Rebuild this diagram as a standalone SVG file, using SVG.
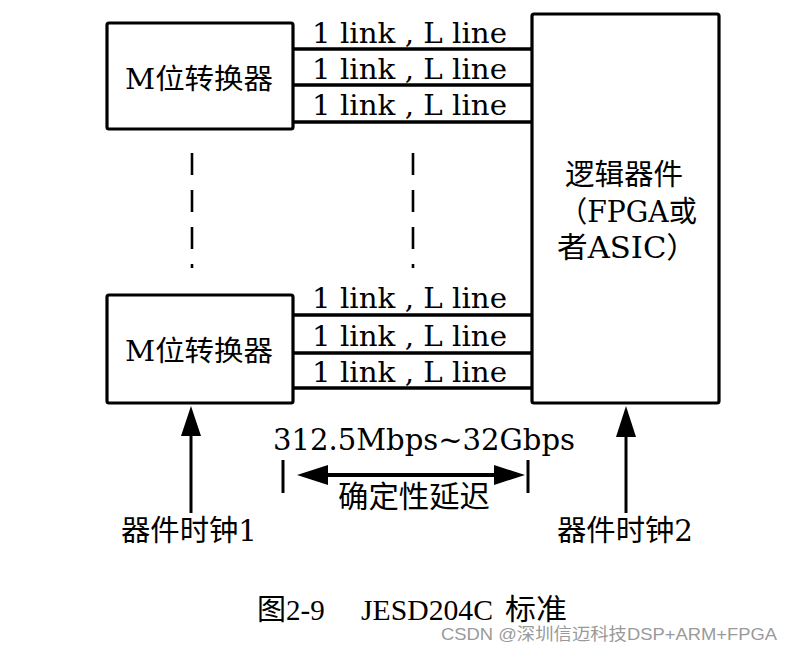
<svg xmlns="http://www.w3.org/2000/svg" width="792" height="648" viewBox="0 0 792 648">
<style>
.box{fill:#fff;stroke:#000;stroke-width:3.2}
.ln{stroke:#000;stroke-width:3.5;fill:none}
.dash{stroke:#000;stroke-width:2.6;stroke-dasharray:22 15;fill:none}
.t{font-family:"DejaVu Serif","Noto Sans CJK SC",serif;fill:#000}
.cap{font-family:"Liberation Serif","Noto Sans CJK SC",serif;fill:#000;font-size:29px}
.wm{font-family:"Liberation Sans","Noto Sans CJK SC",sans-serif;fill:#9a9a9a;font-size:17px}
</style>
<rect width="792" height="648" fill="#fff"/>
<g id="connectors">
  <line class="ln" x1="293" y1="49" x2="532" y2="49"/>
  <line class="ln" x1="293" y1="85" x2="532" y2="85"/>
  <line class="ln" x1="293" y1="122" x2="532" y2="122"/>
  <line class="ln" x1="293" y1="315" x2="532" y2="315"/>
  <line class="ln" x1="293" y1="353" x2="532" y2="353"/>
  <line class="ln" x1="293" y1="388" x2="532" y2="388"/>
  <line class="dash" x1="192" y1="153" x2="192" y2="268"/>
  <line class="dash" x1="413" y1="153" x2="413" y2="268"/>
  <line x1="191" y1="513" x2="191" y2="430" stroke="#000" stroke-width="3"/>
  <polygon points="191,406 181,436 201,436" fill="#000"/>
  <line x1="626" y1="513" x2="626" y2="430" stroke="#000" stroke-width="3"/>
  <polygon points="626,406 616,437 636,437" fill="#000"/>
  <line x1="283" y1="460" x2="283" y2="493" stroke="#000" stroke-width="3"/>
  <line x1="528" y1="460" x2="528" y2="493" stroke="#000" stroke-width="3"/>
  <line x1="320" y1="475" x2="505" y2="475" stroke="#000" stroke-width="4"/>
  <polygon points="297,475 328,465 328,485" fill="#000"/>
  <polygon points="525,475 494,465 494,485" fill="#000"/>
</g>
<g id="link-labels" class="t" font-size="27">
  <text x="312" y="43" textLength="195" lengthAdjust="spacingAndGlyphs">1 link , L line</text>
  <text x="312" y="79" textLength="195" lengthAdjust="spacingAndGlyphs">1 link , L line</text>
  <text x="312" y="115" textLength="195" lengthAdjust="spacingAndGlyphs">1 link , L line</text>
  <text x="312" y="308" textLength="195" lengthAdjust="spacingAndGlyphs">1 link , L line</text>
  <text x="312" y="346" textLength="195" lengthAdjust="spacingAndGlyphs">1 link , L line</text>
  <text x="312" y="382" textLength="195" lengthAdjust="spacingAndGlyphs">1 link , L line</text>
</g>
<g id="converter-top">
  <rect class="box" x="107" y="23" width="186" height="106" rx="2"/>
  <text class="t" x="125" y="89" font-size="28" textLength="148" lengthAdjust="spacingAndGlyphs">M位转换器</text>
</g>
<g id="converter-bottom">
  <rect class="box" x="107" y="295" width="186" height="108" rx="2"/>
  <text class="t" x="125" y="361" font-size="28" textLength="148" lengthAdjust="spacingAndGlyphs">M位转换器</text>
</g>
<g id="logic-device">
  <rect class="box" x="532" y="14" width="187" height="389" rx="2"/>
  <text class="t" x="565" y="185" font-size="29" textLength="118" lengthAdjust="spacingAndGlyphs">逻辑器件</text>
  <text class="t" x="559" y="222" font-size="29" textLength="138" lengthAdjust="spacingAndGlyphs">（FPGA或</text>
  <text class="t" x="557" y="258" font-size="29" textLength="140" lengthAdjust="spacingAndGlyphs">者ASIC）</text>
</g>
<g id="rate-label">
  <text class="t" x="273" y="450" font-size="29" textLength="302" lengthAdjust="spacingAndGlyphs">312.5Mbps~32Gbps</text>
  <text class="t" x="338" y="507" font-size="30" textLength="152" lengthAdjust="spacingAndGlyphs">确定性延迟</text>
</g>
<g id="clock1">
  <text class="t" x="121" y="541" font-size="29" textLength="136" lengthAdjust="spacingAndGlyphs">器件时钟1</text>
</g>
<g id="clock2">
  <text class="t" x="557" y="541" font-size="29" textLength="136" lengthAdjust="spacingAndGlyphs">器件时钟2</text>
</g>
<g id="caption">
  <text class="cap" x="257" y="620">图2-9</text>
  <text class="cap" x="361" y="620" textLength="132" lengthAdjust="spacingAndGlyphs">JESD204C</text>
  <text class="cap" x="505" y="620" textLength="62" lengthAdjust="spacingAndGlyphs">标准</text>
  <text class="wm" x="441" y="640" textLength="336" lengthAdjust="spacingAndGlyphs">CSDN @深圳信迈科技DSP+ARM+FPGA</text>
</g>
</svg>
